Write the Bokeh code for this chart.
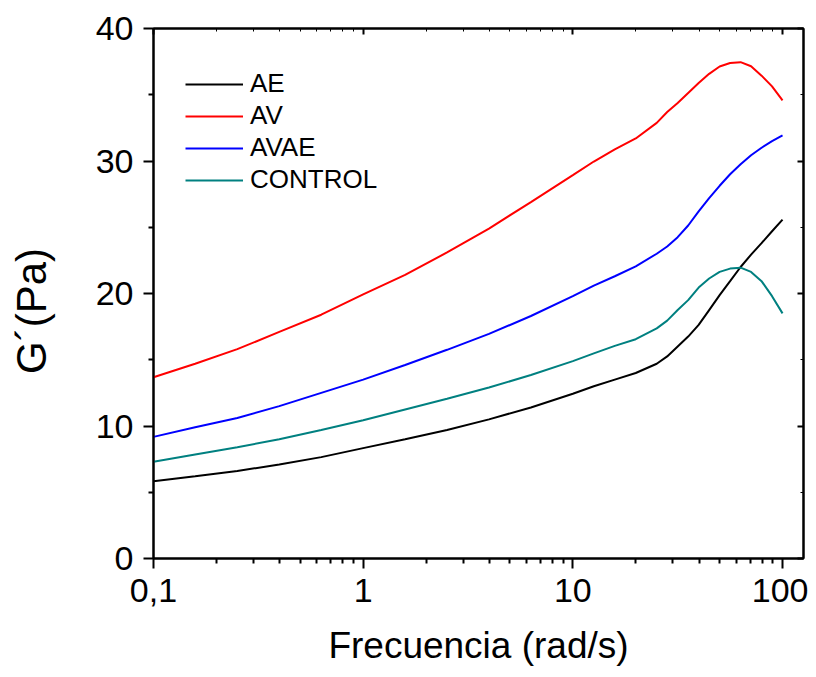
from bokeh.plotting import figure
from bokeh.models import Range1d, FixedTicker, LinearAxis, LogAxis, Legend, LegendItem
from bokeh.embed import file_html
from bokeh.resources import INLINE

# ---- data ----
freq = [0.1, 0.158, 0.251, 0.398, 0.631, 1, 1.585, 2.512, 3.981, 6.31, 10, 12.59, 15.85, 19.95,
        25.12, 28.18, 31.62, 35.48, 39.81, 44.67, 50.12, 56.23, 63.1, 70.79, 79.43, 89.13, 100]
ae = [5.83, 6.2, 6.6, 7.1, 7.65, 8.33, 9.0, 9.7, 10.5, 11.4, 12.43, 13.0, 13.5, 14.0,
      14.7, 15.25, 16.0, 16.75, 17.63, 18.75, 19.88, 20.93, 22.0, 22.93, 23.8, 24.7, 25.58]
av = [13.68, 14.7, 15.8, 17.1, 18.4, 19.93, 21.4, 23.1, 24.9, 26.9, 28.93, 29.96, 30.88, 31.7,
      32.88, 33.7, 34.38, 35.13, 35.88, 36.58, 37.13, 37.4, 37.46, 37.15, 36.44, 35.63, 34.58]
avae = [9.18, 9.9, 10.6, 11.5, 12.5, 13.5, 14.6, 15.75, 16.95, 18.3, 19.8, 20.6, 21.3, 22.05,
        23.0, 23.55, 24.25, 25.13, 26.2, 27.2, 28.13, 29.0, 29.75, 30.43, 31.0, 31.5, 31.93]
control = [7.3, 7.85, 8.4, 9.0, 9.7, 10.43, 11.25, 12.05, 12.9, 13.85, 14.9, 15.48, 16.05, 16.55,
           17.37, 17.95, 18.75, 19.5, 20.45, 21.13, 21.63, 21.88, 21.95, 21.63, 20.93, 19.8, 18.5]

series_names = ["AE", "AV", "AVAE", "CONTROL"]
series_colors = ["#000000", "#FF0000", "#0000FF", "#008080"]

x_ticks = [0.1, 1, 10, 100]
x_tick_labels = ["0,1", "1", "10", "100"]
y_ticks = [0, 10, 20, 30, 40]
y_minor = [5, 15, 25, 35]

x_minor = [m * d for d in (0.1, 1, 10) for m in range(2, 10)]

FONT = "Liberation Sans"

p = figure(width=808, height=668, x_axis_type="log", y_axis_type="linear",
           x_range=Range1d(0.1, 125.9), y_range=Range1d(0, 40),
           output_backend="svg", toolbar_location=None,
           min_border_left=153, min_border_right=5, min_border_top=28, min_border_bottom=108)
p.xgrid.visible = False
p.ygrid.visible = False
p.outline_line_color = "black"
p.outline_line_width = 2

renderers = []
for vals, c in zip([ae, av, avae, control], series_colors):
    r = p.line(freq, vals, line_color=c, line_width=2)
    renderers.append(r)

xb = p.xaxis[0]
xb.ticker = FixedTicker(ticks=x_ticks, minor_ticks=x_minor)
xb.major_label_overrides = {t: l for t, l in zip(x_ticks, x_tick_labels)}
xb.axis_label = "Frecuencia (rad/s)"
yl = p.yaxis[0]
yl.ticker = FixedTicker(ticks=y_ticks, minor_ticks=y_minor)
yl.axis_label = "G´(Pa)\u00a0\u00a0\u00a0"

for ax in (xb, yl):
    ax.axis_line_width = 2
    ax.major_tick_line_width = 2
    ax.minor_tick_line_width = 2
    ax.major_tick_out = 10
    ax.major_tick_in = 0
    ax.minor_tick_out = 5
    ax.minor_tick_in = 0
    ax.major_label_text_font = FONT
    ax.major_label_text_font_size = "34px"
    ax.major_label_text_color = "black"
    ax.axis_label_text_font = FONT
    ax.axis_label_text_font_style = "normal"
    ax.axis_label_text_color = "black"
xb.axis_label_text_font_size = "37px"
yl.axis_label_text_font_size = "42px"
xb.major_label_standoff = 10
xb.axis_label_standoff = 20
yl.major_label_standoff = 10
yl.axis_label_standoff = 38

# top / right frame axes with inward ticks, no labels
xt = LogAxis(ticker=FixedTicker(ticks=x_ticks, minor_ticks=x_minor))
xt.major_label_overrides = {t: "" for t in x_ticks}
yr = LinearAxis(ticker=FixedTicker(ticks=y_ticks, minor_ticks=y_minor))
yr.major_label_overrides = {t: "" for t in y_ticks}
for ax in (xt, yr):
    ax.axis_line_width = 2
    ax.major_tick_line_width = 2
    ax.minor_tick_line_width = 1
    ax.major_tick_in = 6
    ax.major_tick_out = 0
    ax.minor_tick_in = 3
    ax.minor_tick_out = 0
    ax.major_label_standoff = 0
p.add_layout(xt, "above")
p.add_layout(yr, "right")

legend = Legend(items=[LegendItem(label=n, renderers=[r]) for n, r in zip(series_names, renderers)],
                location=(32, 363))
legend.border_line_color = None
legend.background_fill_alpha = 0
legend.padding = 0
legend.margin = 0
legend.spacing = 1
legend.glyph_width = 58
legend.glyph_height = 20
legend.label_height = 20
legend.label_standoff = 7
legend.label_text_font = FONT
legend.label_text_font_size = "26px"
legend.label_text_color = "black"
p.add_layout(legend, "center")

open("out.html", "w").write(file_html(p, INLINE))
